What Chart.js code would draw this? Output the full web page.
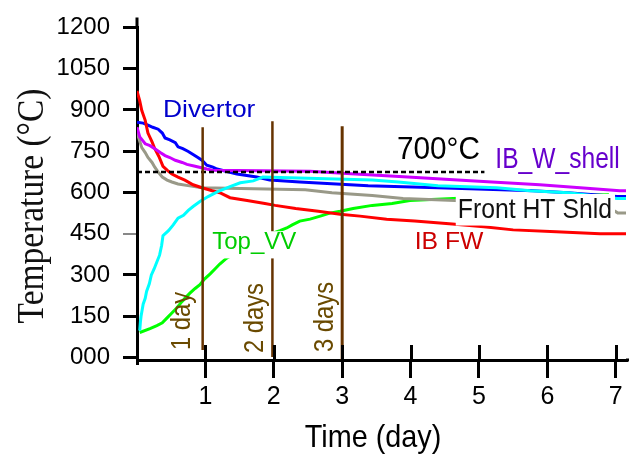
<!DOCTYPE html>
<html>
<head>
<meta charset="utf-8">
<script src="https://cdn.jsdelivr.net/npm/chart.js@4.4.1/dist/chart.umd.min.js"></script>
<style>
    html, body { margin: 0; padding: 0; background: #fff; }
    #wrap { width: 629px; height: 462px; }
</style>
</head>
<body>
<div id="wrap"><canvas id="tempChart" width="629" height="462"></canvas></div>
<script>
// Assi
const xTickValues = [0, 1, 2, 3, 4, 5, 6, 7];
const xTickLabels = ['', '1', '2', '3', '4', '5', '6', '7'];
const yTickValues = [0, 150, 300, 450, 600, 750, 900, 1050, 1200];
const yTickLabels = ['000', '150', '300', '450', '600', '750', '900', '1050', '1200'];

// IB FW (rosso)
const fwDays = [0, 0.04, 0.07, 0.12, 0.16, 0.22, 0.26, 0.32, 0.38, 0.44, 0.51, 0.6, 0.7, 0.82, 0.95, 1.1, 1.21, 1.36, 1.61, 1.87, 2.02, 2.32, 2.65, 2.97, 3.26, 3.65, 4.06, 4.61, 5.07, 5.5, 6.13, 6.77, 7.15];
const fwTemp = [969, 933, 898, 862, 816, 784, 759, 731, 695, 681, 667, 656, 645, 628, 617, 606, 599, 581, 571, 560, 553, 542, 532, 521, 514, 503, 496, 485, 475, 464, 457, 450, 450];

// Divertor (blu)
const divDays = [0, 0.09, 0.16, 0.23, 0.31, 0.37, 0.41, 0.48, 0.56, 0.6, 0.67, 0.75, 0.82, 0.89, 0.95, 1.02, 1.11, 1.17, 1.46, 1.75, 1.94, 2.38, 3.38, 4.4, 5.79, 6.3, 7.02, 7.15];
const divTemp = [855, 852, 845, 837, 830, 816, 798, 791, 781, 766, 759, 749, 738, 727, 717, 699, 692, 685, 667, 656, 645, 638, 624, 617, 606, 599, 585, 585];

// IB_W_shell (viola)
const shellDays = [0, 0.04, 0.12, 0.19, 0.26, 0.34, 0.41, 0.48, 0.56, 0.66, 0.73, 0.85, 1.02, 1.1, 2.53, 3.19, 3.96, 4.69, 5.19, 5.89, 6.48, 7.06, 7.15];
const shellTemp = [837, 802, 777, 770, 759, 745, 734, 727, 717, 709, 702, 695, 685, 681, 677, 667, 656, 645, 638, 628, 617, 606, 606];

// Front HT Shld (grigio)
const shldDays = [0, 0.02, 0.07, 0.12, 0.16, 0.22, 0.26, 0.31, 0.37, 0.44, 0.51, 0.6, 0.77, 0.95, 2.46, 2.85, 3.44, 3.89, 4.65, 5.3, 6.0, 6.6, 6.99, 7.03, 7.15];
const shldTemp = [834, 802, 763, 745, 727, 709, 692, 674, 656, 645, 638, 631, 624, 617, 610, 599, 589, 578, 571, 560, 549, 540, 532, 525, 525];

// curva ciano (senza etichetta)
const cyanDays = [0.04, 0.05, 0.06, 0.09, 0.12, 0.14, 0.18, 0.21, 0.25, 0.29, 0.33, 0.36, 0.38, 0.46, 0.53, 0.6, 0.68, 0.75, 0.82, 0.92, 1.04, 1.18, 1.36, 1.51, 1.7, 1.84, 3.44, 3.82, 4.4, 5.26, 5.75, 6.3, 7.02, 7.15];
const cyanTemp = [98, 130, 151, 194, 215, 240, 268, 300, 322, 347, 372, 407, 443, 461, 482, 507, 517, 535, 549, 567, 585, 603, 621, 635, 642, 656, 645, 638, 624, 617, 606, 599, 578, 578];

// Top_VV (verde)
const vvDays = [0.04, 0.19, 0.29, 0.37, 0.44, 0.51, 0.58, 0.66, 0.7, 0.77, 0.85, 0.92, 0.99, 1.07, 1.14, 1.21, 1.29, 1.33, 1.6, 1.85, 2.09, 2.19, 2.27, 2.38, 2.53, 2.68, 2.82, 2.97, 3.16, 3.44, 3.73, 3.99, 4.62, 5.5, 6.5, 6.9];
const vvTemp = [91, 105, 116, 126, 144, 162, 180, 204, 215, 233, 251, 265, 286, 304, 322, 340, 357, 364, 405, 440, 461, 471, 482, 496, 503, 514, 525, 532, 542, 553, 560, 571, 578, 585, 590, 592];

// linea tratteggiata 700°C
const limitDays = [0, 5.08];
const limitTemp = [674, 674];

// linee verticali 1, 2, 3 giorni
const markDays = [0.96, 1.98, 3.0];
const markTop = [837, 859, 841];
const markBottom = [27, 2, -9];

const FONT_SANS = "'Liberation Sans', Arial, sans-serif";
const FONT_SERIF = "'Liberation Serif', 'Times New Roman', serif";

function toPoints(days, temps) {
    return days.map(function(d, i) { return {x: d, y: temps[i]}; });
}

function curve(label, days, temps, color) {
    return {
        label: label,
        data: toPoints(days, temps),
        borderColor: color,
        borderWidth: 3,
        pointRadius: 0,
        fill: false,
        tension: 0
    };
}

function marker(i, width) {
    return {
        label: 'mark' + i,
        data: [{x: markDays[i], y: markTop[i]}, {x: markDays[i], y: markBottom[i]}],
        borderColor: '#663300',
        borderWidth: width,
        pointRadius: 0
    };
}

/**
 * Etichette, assi e titoli disegnati sopra il grafico
 */
const decorations = {
    id: 'decorations',
    afterDraw: function(chart) {
        const ctx = chart.ctx;
        const xs = chart.scales.x;
        const ys = chart.scales.y;
        const area = chart.chartArea;

        const notes = [
            {text: 'Divertor', x: 0.38, y: 873, color: '#0000cc', size: 24, sx: 1.1},
            {text: '700°C', x: 3.8, y: 720, color: '#000000', size: 32, sx: 0.93},
            {text: 'IB_W_shell', x: 5.24, y: 689, color: '#6600cc', size: 30, sx: 0.82},
            {text: 'Front HT Shld', x: 4.69, y: 507, color: '#111111', size: 28, sx: 0.885, box: [4, 3, 7.5, 2]},
            {text: 'IB FW', x: 4.06, y: 393, color: '#cc0000', size: 24, sx: 1.03},
            {text: 'Top_VV', x: 1.1, y: 393, color: '#00cc00', size: 24, sx: 1.0, box: [1, 2, 9, 2]}
        ];

        ctx.save();
        notes.forEach(function(n) {
            const px = xs.getPixelForValue(n.x);
            const py = ys.getPixelForValue(n.y);
            ctx.font = n.size + 'px ' + FONT_SANS;
            const w = ctx.measureText(n.text).width * n.sx;
            if (n.box) {
                const cap = n.size * 0.716;
                ctx.fillStyle = '#ffffff';
                ctx.fillRect(px - n.box[3], py - cap - n.box[0], w + n.box[1] + n.box[3], cap + n.box[0] + n.box[2]);
            }
            ctx.save();
            ctx.translate(px, py);
            ctx.scale(n.sx, 1);
            ctx.fillStyle = n.color;
            ctx.textAlign = 'left';
            ctx.textBaseline = 'alphabetic';
            ctx.fillText(n.text, 0, 0);
            ctx.restore();
        });

        // etichette verticali dei giorni
        const dayNotes = [
            {text: '1 day', x: 0.775, y: 27},
            {text: '2 days', x: 1.84, y: 16},
            {text: '3 days', x: 2.87, y: 20}
        ];
        dayNotes.forEach(function(n) {
            ctx.save();
            ctx.translate(xs.getPixelForValue(n.x), ys.getPixelForValue(n.y));
            ctx.rotate(-Math.PI / 2);
            ctx.scale(0.85, 1);
            ctx.font = '28px ' + FONT_SANS;
            ctx.fillStyle = '#6a4a00';
            ctx.textAlign = 'left';
            ctx.textBaseline = 'alphabetic';
            ctx.fillText(n.text, 0, 0);
            ctx.restore();
        });

        // tacche dell'asse x sopra la linea
        ctx.strokeStyle = '#000';
        ctx.lineWidth = 3;
        ctx.beginPath();
        xTickValues.forEach(function(v) {
            const px = Math.round(xs.getPixelForValue(v)) + 0.5;
            if (v === 0) {
                ctx.moveTo(px, area.bottom - 8);
                ctx.lineTo(px, area.bottom + 5);
            } else {
                ctx.moveTo(px, area.bottom);
                ctx.lineTo(px, area.bottom - 15);
            }
        });
        // prolungamenti degli assi
        ctx.moveTo(area.left, area.top);
        ctx.lineTo(area.left, area.top - 10);
        ctx.moveTo(area.right, area.bottom);
        ctx.lineTo(chart.width, area.bottom);
        ctx.stroke();

        // titolo asse y
        ctx.save();
        ctx.translate(43, 206);
        ctx.rotate(-Math.PI / 2);
        ctx.scale(0.88, 1);
        ctx.font = '38px ' + FONT_SERIF;
        ctx.fillStyle = '#111';
        ctx.textAlign = 'center';
        ctx.textBaseline = 'alphabetic';
        ctx.fillText('Temperature (°C)', 0, 0);
        ctx.restore();

        // titolo asse x
        ctx.save();
        ctx.translate(373, 447);
        ctx.scale(0.9, 1);
        ctx.font = '32px ' + FONT_SANS;
        ctx.fillStyle = '#000';
        ctx.textAlign = 'center';
        ctx.textBaseline = 'alphabetic';
        ctx.fillText('Time (day)', 0, 0);
        ctx.restore();

        ctx.restore();
    }
};

document.addEventListener('DOMContentLoaded', function() {
    const ctx = document.getElementById('tempChart').getContext('2d');
    new Chart(ctx, {
        type: 'line',
        data: {
            datasets: [
                marker(2, 3),
                marker(1, 2.5),
                marker(0, 2.5),
                {
                    label: '700°C',
                    data: toPoints(limitDays, limitTemp),
                    borderColor: '#000',
                    borderWidth: 2.5,
                    borderDash: [5, 3],
                    pointRadius: 0
                },
                curve('cyan', cyanDays, cyanTemp, '#00ffff'),
                curve('IB_W_shell', shellDays, shellTemp, '#cc00ff'),
                curve('IB FW', fwDays, fwTemp, '#ff0000'),
                curve('Divertor', divDays, divTemp, '#0000ff'),
                curve('Front HT Shld', shldDays, shldTemp, '#999988'),
                curve('Top_VV', vvDays, vvTemp, '#00ff00')
            ]
        },
        options: {
            responsive: false,
            animation: false,
            layout: {
                padding: {top: 20, right: 3, left: 0, bottom: 0}
            },
            plugins: {
                legend: {display: false},
                tooltip: {enabled: false}
            },
            scales: {
                x: {
                    type: 'linear',
                    min: 0,
                    max: 7.15,
                    afterBuildTicks: function(scale) {
                        scale.ticks = xTickValues.map(function(v) { return {value: v}; });
                    },
                    afterFit: function(scale) {
                        scale.height = 102;
                    },
                    ticks: {
                        callback: function(value) {
                            return xTickLabels[xTickValues.indexOf(value)];
                        },
                        font: {family: FONT_SANS, size: 25},
                        color: '#000',
                        padding: 4,
                        maxRotation: 0,
                        autoSkip: false
                    },
                    grid: {
                        drawOnChartArea: false,
                        tickLength: 18,
                        lineWidth: 3,
                        color: function(c) {
                            return (c.tick && c.tick.value === 0) ? 'rgba(0,0,0,0)' : '#000';
                        }
                    },
                    border: {display: true, color: '#000', width: 3}
                },
                y: {
                    type: 'linear',
                    min: -9,
                    max: 1200,
                    afterBuildTicks: function(scale) {
                        scale.ticks = yTickValues.map(function(v) { return {value: v}; });
                    },
                    afterFit: function(scale) {
                        scale.width = 137;
                    },
                    ticks: {
                        callback: function(value) {
                            return yTickLabels[yTickValues.indexOf(value)];
                        },
                        font: {family: FONT_SANS, size: 24},
                        color: '#000',
                        padding: 13,
                        autoSkip: false
                    },
                    grid: {
                        drawOnChartArea: false,
                        tickLength: 14,
                        lineWidth: function(c) {
                            return (c.tick && c.tick.value === 450) ? 2 : 3;
                        },
                        color: function(c) {
                            return (c.tick && c.tick.value === 450) ? '#888888' : '#000';
                        }
                    },
                    border: {display: true, color: '#000', width: 3}
                }
            }
        },
        plugins: [decorations]
    });
});
</script>
</body>
</html>
